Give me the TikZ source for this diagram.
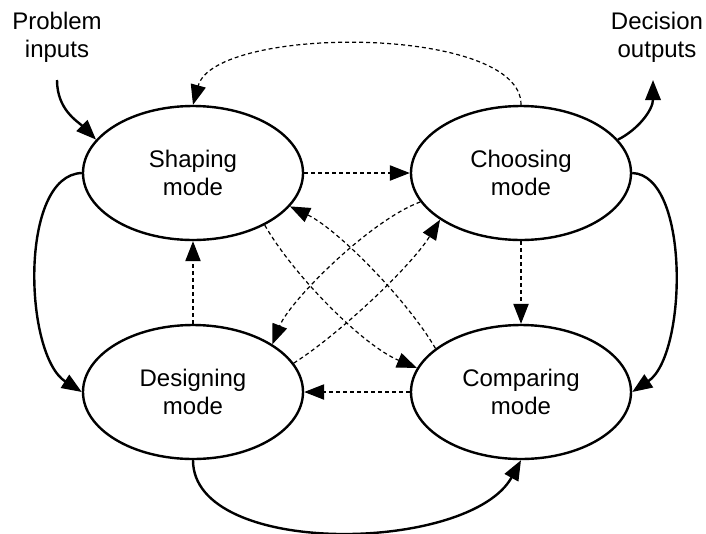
\documentclass[tikz,border=0pt]{standalone}
\usepackage{fontspec}
\setmainfont{Liberation Sans}
\usetikzlibrary{arrows.meta,shapes.geometric}
\tikzset{
	mode/.style={ellipse, draw, line width=1.8pt, minimum width=165pt, minimum height=100.5pt, inner sep=0pt, align=center, font=\fontsize{18pt}{20.7pt}\selectfont},
	lbl/.style={align=center, inner sep=0pt, font=\fontsize{18pt}{20.7pt}\selectfont},
	flow/.style={line width=1.8pt, -{Triangle[length=15pt,width=11.5pt]}},
	hint/.style={line width=0.9pt, dash pattern=on 3pt off 2.25pt, -{Triangle[length=15pt,width=11.5pt]}}}
\tikzset{every picture/.style={line width=0.75pt}}

\begin{document}
\begin{tikzpicture}[x=0.75pt,y=0.75pt,yscale=-1,xscale=1]
	\useasboundingbox (0,0) rectangle (706,533);

	%Shape: Ellipse [id:shp] 
	\node [mode] (shp) at (193,173) {Shaping\\mode};
	%Shape: Ellipse [id:chs] 
	\node [mode] (chs) at (521,173) {Choosing\\mode};
	%Shape: Ellipse [id:dsg] 
	\node [mode] (dsg) at (193,392) {Designing\\mode};
	%Shape: Ellipse [id:cmp] 
	\node [mode] (cmp) at (521,392) {Comparing\\mode};

	% Text Node
	\node [lbl] (pin) at (57,37) {Problem\\inputs};
	% Text Node
	\node [lbl] (pout) at (657,37) {Decision\\outputs};
	\coordinate (pinend) at (57,80);
	\coordinate (poutend) at (653,80);

	%Curve Lines [id:inputs] 
	\draw [flow] (pinend) .. controls +(0,30) and +(-18,-18) .. (shp.161);
	%Curve Lines [id:outputs] 
	\draw [flow] (chs.19) .. controls +(20,-10) and +(0,30) .. (poutend);
	%Curve Lines [id:shp-dsg] 
	\draw [flow] (shp.180) .. controls +(-63,2) and +(-58,-37) .. (dsg.180);
	%Curve Lines [id:chs-cmp] 
	\draw [flow] (chs.0) .. controls +(58,2) and +(55,-37) .. (cmp.0);
	%Curve Lines [id:dsg-cmp] 
	\draw [flow] (dsg.270) .. controls +(0,98) and +(-51,93) .. (cmp.270);

	%Curve Lines [id:chs-shp] 
	\draw [hint] (chs.90) .. controls +(1,-80) and +(22,-80) .. (shp.90);
	%Straight Lines [id:shp-chs] 
	\draw [hint] (shp.0) -- (chs.180);
	%Straight Lines [id:chs-cmp2] 
	\draw [hint] (chs.270) -- (cmp.90);
	%Straight Lines [id:dsg-shp] 
	\draw [hint] (dsg.90) -- (shp.270);
	%Straight Lines [id:cmp-dsg] 
	\draw [hint] (cmp.180) -- (dsg.0);

	%Curve Lines [id:shp-cmp] 
	\draw [hint] (shp.-36) .. controls +(28,49) and +(-55,-23) .. (cmp.167);
	%Curve Lines [id:cmp-shp] 
	\draw [hint] (cmp.153) .. controls +(-28,-48) and +(48,23) .. (shp.-19);
	%Curve Lines [id:dsg-chs] 
	\draw [hint] (dsg.16) .. controls +(43,-27) and +(-30,48) .. (chs.210);
	%Curve Lines [id:chs-dsg] 
	\draw [hint] (chs.196) .. controls +(-51,19) and +(17,-43) .. (dsg.31);

\end{tikzpicture}
\end{document}
